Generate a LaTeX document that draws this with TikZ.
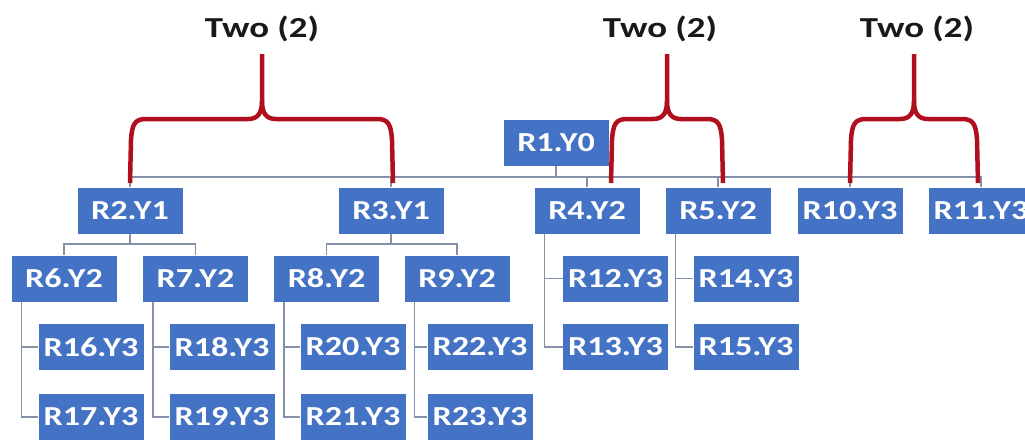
\documentclass[tikz,border=0pt]{standalone}
\usepackage{fontspec}
\newfontfamily\boxfont[FakeStretch=1.24]{Carlito}
\newfontfamily\titlefont[FakeStretch=1.27]{Carlito}
\definecolor{boxblue}{HTML}{4472C4}
\definecolor{bracered}{HTML}{B0101E}
\definecolor{linegray}{HTML}{8591A8}
\newcommand{\redbrace}[3]{%
  \draw[brace] (#1,183) -- (#1+1,140) .. controls (#1+2,124) and (#1+5,119) .. (#1+16,119)
     -- (#2-14,119) .. controls (#2-4,119) and (#2,113) .. (#2,101) -- (#2,54);
  \draw[brace] (#2,101) .. controls (#2,113) and (#2+4,119) .. (#2+14,119)
     -- (#3-16,119) .. controls (#3-5,119) and (#3-2,124) .. (#3-1,140) -- (#3,183);
}
\begin{document}
\begin{tikzpicture}[x=1pt,y=-1pt,
  box/.style={fill=boxblue, text=white, minimum width=105pt, minimum height=46pt,
    inner sep=0pt, font=\boxfont\bfseries\fontsize{27.5}{27.5}\selectfont},
  conn/.style={draw=linegray, line width=1.4pt},
  brace/.style={draw=bracered, line width=4.5pt, line join=round},
  ttl/.style={font=\titlefont\bfseries\fontsize{29}{29}\selectfont, text=black!90, anchor=base}]
\path[use as bounding box, fill=white] (0,0) rectangle (1025,445);
\clip (0,0) rectangle (1025,445);

% bus levels
\coordinate (bus) at (0,177);
\coordinate (sbus) at (0,244);

% nodes
\node[box] (R1) at (556,143) {R1.Y0};
\node[box] (R2) at (130,210.5) {R2.Y1};
\node[box] (R3) at (391,210.5) {R3.Y1};
\node[box] (R4) at (587,210.5) {R4.Y2};
\node[box] (R5) at (718,210.5) {R5.Y2};
\node[box] (R10) at (850,210.5) {R10.Y3};
\node[box] (R11) at (981,210.5) {R11.Y3};

\node[box] (R6) at (64,278.5) {R6.Y2};
\node[box] (R7) at (195.5,278.5) {R7.Y2};
\node[box] (R8) at (326.5,278.5) {R8.Y2};
\node[box] (R9) at (457,278.5) {R9.Y2};
\node[box] (R12) at (615.5,278.5) {R12.Y3};
\node[box] (R14) at (746,278.5) {R14.Y3};

\node[box] (R16) at (91,347) {R16.Y3};
\node[box] (R18) at (222,347) {R18.Y3};
\node[box] (R20) at (353,347) {R20.Y3};
\node[box] (R22) at (480,347) {R22.Y3};
\node[box] (R13) at (615.5,347) {R13.Y3};
\node[box] (R15) at (746,347) {R15.Y3};

\node[box] (R17) at (91,417) {R17.Y3};
\node[box] (R19) at (222,417) {R19.Y3};
\node[box] (R21) at (353,417) {R21.Y3};
\node[box] (R23) at (480,417) {R23.Y3};

% top bus
\draw[conn] (R2.north) -- (R2.north |- bus) -- (R11.north |- bus) -- (R11.north);
\draw[conn] (R1.south) -- (R1.south |- bus);
\foreach \n in {R3,R4,R5,R10} \draw[conn] (\n.north) -- (\n.north |- bus);

% sub buses
\draw[conn] (R2.south) -- (R2.south |- sbus);
\draw[conn] (R6.north) -- (R6.north |- sbus) -- (R7.north |- sbus) -- (R7.north);
\draw[conn] (R3.south) -- (R3.south |- sbus);
\draw[conn] (R8.north) -- (R8.north |- sbus) -- (R9.north |- sbus) -- (R9.north);

% child lists
\foreach \p/\a/\b in {R6/R16/R17, R7/R18/R19, R8/R20/R21, R9/R22/R23, R4/R12/R13, R5/R14/R15} {
  \coordinate (v\p) at ([xshift=10pt]\p.south west);
  \draw[conn] (v\p) |- (\b.west);
  \draw[conn] (v\p |- \a.west) -- (\a.west);
}

% braces
\redbrace{130}{262}{393}
\redbrace{611}{667}{723}
\redbrace{850}{914}{978}

% titles
\node[ttl] (t1) at (262,37) {Two (2)};
\node[ttl] (t2) at (660,37) {Two (2)};
\node[ttl] (t3) at (917,37) {Two (2)};
\end{tikzpicture}
\end{document}
